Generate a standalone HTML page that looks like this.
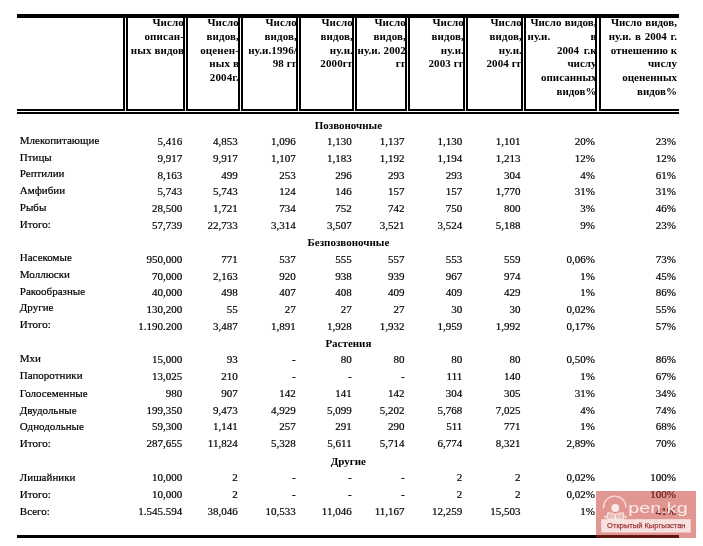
<!DOCTYPE html>
<html lang="ru"><head><meta charset="utf-8"><title>Таблица</title>
<style>
html,body{margin:0;padding:0;background:#fff;}
body{width:703px;height:546px;position:relative;overflow:hidden;font-family:"Liberation Serif","Times New Roman",serif;font-size:11px;color:#000;}
.t{position:absolute;white-space:nowrap;line-height:12px;height:12px;-webkit-text-stroke:0.2px #000;}
.l{left:19.8px;}
.n{text-align:right;width:80px;}
.h{font-weight:bold;text-align:right;width:100px;-webkit-text-stroke:0;letter-spacing:0.12px;}
.s{-webkit-text-stroke:0;font-weight:bold;text-align:center;width:120px;left:288.4px;}
.k{position:absolute;background:#000;}
</style></head><body>

<div class="t h" style="left:84.0px;top:16.0px">Число</div>
<div class="t h" style="left:84.0px;top:30.0px">описан-</div>
<div class="t h" style="left:84.0px;top:44.0px">ных видов</div>
<div class="t h" style="left:139.0px;top:16.0px">Число</div>
<div class="t h" style="left:139.0px;top:30.0px">видов,</div>
<div class="t h" style="left:139.0px;top:44.0px">оценен-</div>
<div class="t h" style="left:139.0px;top:57.4px">ных в</div>
<div class="t h" style="left:139.0px;top:71.0px">2004г.</div>
<div class="t h" style="left:197.0px;top:16.0px">Число</div>
<div class="t h" style="left:197.0px;top:30.0px">видов,</div>
<div class="t h" style="left:197.0px;top:44.0px">ну.и.1996/</div>
<div class="t h" style="left:197.0px;top:57.4px">98 гг</div>
<div class="t h" style="left:253.0px;top:16.0px">Число</div>
<div class="t h" style="left:253.0px;top:30.0px">видов,</div>
<div class="t h" style="left:253.0px;top:44.0px">ну.и.</div>
<div class="t h" style="left:253.0px;top:57.4px">2000гг</div>
<div class="t h" style="left:306.0px;top:16.0px">Число</div>
<div class="t h" style="left:306.0px;top:30.0px">видов,</div>
<div class="t h" style="left:306.0px;top:44.0px">ну.и. 2002</div>
<div class="t h" style="left:306.0px;top:57.4px">гг</div>
<div class="t h" style="left:364.0px;top:16.0px">Число</div>
<div class="t h" style="left:364.0px;top:30.0px">видов,</div>
<div class="t h" style="left:364.0px;top:44.0px">ну.и.</div>
<div class="t h" style="left:364.0px;top:57.4px">2003 гг</div>
<div class="t h" style="left:422.0px;top:16.0px">Число</div>
<div class="t h" style="left:422.0px;top:30.0px">видов,</div>
<div class="t h" style="left:422.0px;top:44.0px">ну.и.</div>
<div class="t h" style="left:422.0px;top:57.4px">2004 гг</div>
<div class="t h" style="left:496.5px;top:16.0px;letter-spacing:0;word-spacing:0.6px">Число видов,</div>
<div class="t h" style="left:496.5px;top:30.0px;letter-spacing:0">в</div>
<div class="t h" style="left:496.5px;top:44.0px;letter-spacing:0;word-spacing:1.8px">2004 г.к</div>
<div class="t h" style="left:496.5px;top:57.4px;letter-spacing:0">числу</div>
<div class="t h" style="left:496.5px;top:71.0px;letter-spacing:0">описанных</div>
<div class="t h" style="left:496.5px;top:85.0px;letter-spacing:0">видов%</div>
<div class="t h" style="left:577.0px;top:16.0px;letter-spacing:0;word-spacing:0.6px">Число видов,</div>
<div class="t h" style="left:577.0px;top:30.0px;letter-spacing:0;word-spacing:1.0px">ну.и. в 2004 г.</div>
<div class="t h" style="left:577.0px;top:44.0px;letter-spacing:0">отнешению к</div>
<div class="t h" style="left:577.0px;top:57.4px;letter-spacing:0">числу</div>
<div class="t h" style="left:577.0px;top:71.0px;letter-spacing:0">оцененных</div>
<div class="t h" style="left:577.0px;top:85.0px;letter-spacing:0">видов%</div>
<div class="t h" style="left:527.6px;top:30px;text-align:left;letter-spacing:0">ну.и.</div>
<div class="t s" style="top:119.0px">Позвоночные</div>
<div class="t l" style="top:134.0px">Млекопитающие</div>
<div class="t n" style="left:102.3px;top:135.0px">5,416</div>
<div class="t n" style="left:157.7px;top:135.0px">4,853</div>
<div class="t n" style="left:215.7px;top:135.0px">1,096</div>
<div class="t n" style="left:271.7px;top:135.0px">1,130</div>
<div class="t n" style="left:324.6px;top:135.0px">1,137</div>
<div class="t n" style="left:382.3px;top:135.0px">1,130</div>
<div class="t n" style="left:440.6px;top:135.0px">1,101</div>
<div class="t n" style="left:515.0px;top:135.0px">20%</div>
<div class="t n" style="left:595.8px;top:135.0px">23%</div>
<div class="t l" style="top:151.0px">Птицы</div>
<div class="t n" style="left:102.3px;top:152.0px">9,917</div>
<div class="t n" style="left:157.7px;top:152.0px">9,917</div>
<div class="t n" style="left:215.7px;top:152.0px">1,107</div>
<div class="t n" style="left:271.7px;top:152.0px">1,183</div>
<div class="t n" style="left:324.6px;top:152.0px">1,192</div>
<div class="t n" style="left:382.3px;top:152.0px">1,194</div>
<div class="t n" style="left:440.6px;top:152.0px">1,213</div>
<div class="t n" style="left:515.0px;top:152.0px">12%</div>
<div class="t n" style="left:595.8px;top:152.0px">12%</div>
<div class="t l" style="top:167.0px">Рептилии</div>
<div class="t n" style="left:102.3px;top:169.0px">8,163</div>
<div class="t n" style="left:157.7px;top:169.0px">499</div>
<div class="t n" style="left:215.7px;top:169.0px">253</div>
<div class="t n" style="left:271.7px;top:169.0px">296</div>
<div class="t n" style="left:324.6px;top:169.0px">293</div>
<div class="t n" style="left:382.3px;top:169.0px">293</div>
<div class="t n" style="left:440.6px;top:169.0px">304</div>
<div class="t n" style="left:515.0px;top:169.0px">4%</div>
<div class="t n" style="left:595.8px;top:169.0px">61%</div>
<div class="t l" style="top:184.0px">Амфибии</div>
<div class="t n" style="left:102.3px;top:185.0px">5,743</div>
<div class="t n" style="left:157.7px;top:185.0px">5,743</div>
<div class="t n" style="left:215.7px;top:185.0px">124</div>
<div class="t n" style="left:271.7px;top:185.0px">146</div>
<div class="t n" style="left:324.6px;top:185.0px">157</div>
<div class="t n" style="left:382.3px;top:185.0px">157</div>
<div class="t n" style="left:440.6px;top:185.0px">1,770</div>
<div class="t n" style="left:515.0px;top:185.0px">31%</div>
<div class="t n" style="left:595.8px;top:185.0px">31%</div>
<div class="t l" style="top:201.0px">Рыбы</div>
<div class="t n" style="left:102.3px;top:202.0px">28,500</div>
<div class="t n" style="left:157.7px;top:202.0px">1,721</div>
<div class="t n" style="left:215.7px;top:202.0px">734</div>
<div class="t n" style="left:271.7px;top:202.0px">752</div>
<div class="t n" style="left:324.6px;top:202.0px">742</div>
<div class="t n" style="left:382.3px;top:202.0px">750</div>
<div class="t n" style="left:440.6px;top:202.0px">800</div>
<div class="t n" style="left:515.0px;top:202.0px">3%</div>
<div class="t n" style="left:595.8px;top:202.0px">46%</div>
<div class="t l" style="top:218.0px">Итого:</div>
<div class="t n" style="left:102.3px;top:219.0px">57,739</div>
<div class="t n" style="left:157.7px;top:219.0px">22,733</div>
<div class="t n" style="left:215.7px;top:219.0px">3,314</div>
<div class="t n" style="left:271.7px;top:219.0px">3,507</div>
<div class="t n" style="left:324.6px;top:219.0px">3,521</div>
<div class="t n" style="left:382.3px;top:219.0px">3,524</div>
<div class="t n" style="left:440.6px;top:219.0px">5,188</div>
<div class="t n" style="left:515.0px;top:219.0px">9%</div>
<div class="t n" style="left:595.8px;top:219.0px">23%</div>
<div class="t s" style="top:236.0px">Безпозвоночные</div>
<div class="t l" style="top:251.0px">Насекомые</div>
<div class="t n" style="left:102.3px;top:253.0px">950,000</div>
<div class="t n" style="left:157.7px;top:253.0px">771</div>
<div class="t n" style="left:215.7px;top:253.0px">537</div>
<div class="t n" style="left:271.7px;top:253.0px">555</div>
<div class="t n" style="left:324.6px;top:253.0px">557</div>
<div class="t n" style="left:382.3px;top:253.0px">553</div>
<div class="t n" style="left:440.6px;top:253.0px">559</div>
<div class="t n" style="left:515.0px;top:253.0px">0,06%</div>
<div class="t n" style="left:595.8px;top:253.0px">73%</div>
<div class="t l" style="top:268.0px">Моллюски</div>
<div class="t n" style="left:102.3px;top:270.0px">70,000</div>
<div class="t n" style="left:157.7px;top:270.0px">2,163</div>
<div class="t n" style="left:215.7px;top:270.0px">920</div>
<div class="t n" style="left:271.7px;top:270.0px">938</div>
<div class="t n" style="left:324.6px;top:270.0px">939</div>
<div class="t n" style="left:382.3px;top:270.0px">967</div>
<div class="t n" style="left:440.6px;top:270.0px">974</div>
<div class="t n" style="left:515.0px;top:270.0px">1%</div>
<div class="t n" style="left:595.8px;top:270.0px">45%</div>
<div class="t l" style="top:285.0px">Ракообразные</div>
<div class="t n" style="left:102.3px;top:286.0px">40,000</div>
<div class="t n" style="left:157.7px;top:286.0px">498</div>
<div class="t n" style="left:215.7px;top:286.0px">407</div>
<div class="t n" style="left:271.7px;top:286.0px">408</div>
<div class="t n" style="left:324.6px;top:286.0px">409</div>
<div class="t n" style="left:382.3px;top:286.0px">409</div>
<div class="t n" style="left:440.6px;top:286.0px">429</div>
<div class="t n" style="left:515.0px;top:286.0px">1%</div>
<div class="t n" style="left:595.8px;top:286.0px">86%</div>
<div class="t l" style="top:301.0px">Другие</div>
<div class="t n" style="left:102.3px;top:303.0px">130,200</div>
<div class="t n" style="left:157.7px;top:303.0px">55</div>
<div class="t n" style="left:215.7px;top:303.0px">27</div>
<div class="t n" style="left:271.7px;top:303.0px">27</div>
<div class="t n" style="left:324.6px;top:303.0px">27</div>
<div class="t n" style="left:382.3px;top:303.0px">30</div>
<div class="t n" style="left:440.6px;top:303.0px">30</div>
<div class="t n" style="left:515.0px;top:303.0px">0,02%</div>
<div class="t n" style="left:595.8px;top:303.0px">55%</div>
<div class="t l" style="top:318.0px">Итого:</div>
<div class="t n" style="left:102.3px;top:320.0px">1.190.200</div>
<div class="t n" style="left:157.7px;top:320.0px">3,487</div>
<div class="t n" style="left:215.7px;top:320.0px">1,891</div>
<div class="t n" style="left:271.7px;top:320.0px">1,928</div>
<div class="t n" style="left:324.6px;top:320.0px">1,932</div>
<div class="t n" style="left:382.3px;top:320.0px">1,959</div>
<div class="t n" style="left:440.6px;top:320.0px">1,992</div>
<div class="t n" style="left:515.0px;top:320.0px">0,17%</div>
<div class="t n" style="left:595.8px;top:320.0px">57%</div>
<div class="t s" style="top:337.0px">Растения</div>
<div class="t l" style="top:352.0px">Мхи</div>
<div class="t n" style="left:102.3px;top:353.0px">15,000</div>
<div class="t n" style="left:157.7px;top:353.0px">93</div>
<div class="t n" style="left:215.7px;top:353.0px">-</div>
<div class="t n" style="left:271.7px;top:353.0px">80</div>
<div class="t n" style="left:324.6px;top:353.0px">80</div>
<div class="t n" style="left:382.3px;top:353.0px">80</div>
<div class="t n" style="left:440.6px;top:353.0px">80</div>
<div class="t n" style="left:515.0px;top:353.0px">0,50%</div>
<div class="t n" style="left:595.8px;top:353.0px">86%</div>
<div class="t l" style="top:369.0px">Папоротники</div>
<div class="t n" style="left:102.3px;top:370.0px">13,025</div>
<div class="t n" style="left:157.7px;top:370.0px">210</div>
<div class="t n" style="left:215.7px;top:370.0px">-</div>
<div class="t n" style="left:271.7px;top:370.0px">-</div>
<div class="t n" style="left:324.6px;top:370.0px">-</div>
<div class="t n" style="left:382.3px;top:370.0px">111</div>
<div class="t n" style="left:440.6px;top:370.0px">140</div>
<div class="t n" style="left:515.0px;top:370.0px">1%</div>
<div class="t n" style="left:595.8px;top:370.0px">67%</div>
<div class="t l" style="top:387.0px">Голосеменные</div>
<div class="t n" style="left:102.3px;top:387.0px">980</div>
<div class="t n" style="left:157.7px;top:387.0px">907</div>
<div class="t n" style="left:215.7px;top:387.0px">142</div>
<div class="t n" style="left:271.7px;top:387.0px">141</div>
<div class="t n" style="left:324.6px;top:387.0px">142</div>
<div class="t n" style="left:382.3px;top:387.0px">304</div>
<div class="t n" style="left:440.6px;top:387.0px">305</div>
<div class="t n" style="left:515.0px;top:387.0px">31%</div>
<div class="t n" style="left:595.8px;top:387.0px">34%</div>
<div class="t l" style="top:404.0px">Двудольные</div>
<div class="t n" style="left:102.3px;top:404.0px">199,350</div>
<div class="t n" style="left:157.7px;top:404.0px">9,473</div>
<div class="t n" style="left:215.7px;top:404.0px">4,929</div>
<div class="t n" style="left:271.7px;top:404.0px">5,099</div>
<div class="t n" style="left:324.6px;top:404.0px">5,202</div>
<div class="t n" style="left:382.3px;top:404.0px">5,768</div>
<div class="t n" style="left:440.6px;top:404.0px">7,025</div>
<div class="t n" style="left:515.0px;top:404.0px">4%</div>
<div class="t n" style="left:595.8px;top:404.0px">74%</div>
<div class="t l" style="top:420.0px">Однодольные</div>
<div class="t n" style="left:102.3px;top:420.0px">59,300</div>
<div class="t n" style="left:157.7px;top:420.0px">1,141</div>
<div class="t n" style="left:215.7px;top:420.0px">257</div>
<div class="t n" style="left:271.7px;top:420.0px">291</div>
<div class="t n" style="left:324.6px;top:420.0px">290</div>
<div class="t n" style="left:382.3px;top:420.0px">511</div>
<div class="t n" style="left:440.6px;top:420.0px">771</div>
<div class="t n" style="left:515.0px;top:420.0px">1%</div>
<div class="t n" style="left:595.8px;top:420.0px">68%</div>
<div class="t l" style="top:437.0px">Итого:</div>
<div class="t n" style="left:102.3px;top:437.0px">287,655</div>
<div class="t n" style="left:157.7px;top:437.0px">11,824</div>
<div class="t n" style="left:215.7px;top:437.0px">5,328</div>
<div class="t n" style="left:271.7px;top:437.0px">5,611</div>
<div class="t n" style="left:324.6px;top:437.0px">5,714</div>
<div class="t n" style="left:382.3px;top:437.0px">6,774</div>
<div class="t n" style="left:440.6px;top:437.0px">8,321</div>
<div class="t n" style="left:515.0px;top:437.0px">2,89%</div>
<div class="t n" style="left:595.8px;top:437.0px">70%</div>
<div class="t s" style="top:455.0px">Другие</div>
<div class="t l" style="top:471.0px">Лишайники</div>
<div class="t n" style="left:102.3px;top:471.0px">10,000</div>
<div class="t n" style="left:157.7px;top:471.0px">2</div>
<div class="t n" style="left:215.7px;top:471.0px">-</div>
<div class="t n" style="left:271.7px;top:471.0px">-</div>
<div class="t n" style="left:324.6px;top:471.0px">-</div>
<div class="t n" style="left:382.3px;top:471.0px">2</div>
<div class="t n" style="left:440.6px;top:471.0px">2</div>
<div class="t n" style="left:515.0px;top:471.0px">0,02%</div>
<div class="t n" style="left:595.8px;top:471.0px">100%</div>
<div class="t l" style="top:488.0px">Итого:</div>
<div class="t n" style="left:102.3px;top:488.0px">10,000</div>
<div class="t n" style="left:157.7px;top:488.0px">2</div>
<div class="t n" style="left:215.7px;top:488.0px">-</div>
<div class="t n" style="left:271.7px;top:488.0px">-</div>
<div class="t n" style="left:324.6px;top:488.0px">-</div>
<div class="t n" style="left:382.3px;top:488.0px">2</div>
<div class="t n" style="left:440.6px;top:488.0px">2</div>
<div class="t n" style="left:515.0px;top:488.0px">0,02%</div>
<div class="t n" style="left:595.8px;top:488.0px">100%</div>
<div class="t l" style="top:505.0px">Всего:</div>
<div class="t n" style="left:102.3px;top:505.0px">1.545.594</div>
<div class="t n" style="left:157.7px;top:505.0px">38,046</div>
<div class="t n" style="left:215.7px;top:505.0px">10,533</div>
<div class="t n" style="left:271.7px;top:505.0px">11,046</div>
<div class="t n" style="left:324.6px;top:505.0px">11,167</div>
<div class="t n" style="left:382.3px;top:505.0px">12,259</div>
<div class="t n" style="left:440.6px;top:505.0px">15,503</div>
<div class="t n" style="left:515.0px;top:505.0px">1%</div>
<div class="t n" style="left:595.8px;top:505.0px">41%</div>
<div class="k" style="left:17px;top:14px;width:662px;height:4px"></div>
<div class="k" style="left:17px;top:112px;width:662px;height:2px"></div>
<div class="k" style="left:17px;top:535px;width:662px;height:3px"></div>
<div class="k" style="left:17px;top:109px;width:108px;height:2px"></div>
<div class="k" style="left:126px;top:109px;width:59px;height:2px"></div>
<div class="k" style="left:186px;top:109px;width:54px;height:2px"></div>
<div class="k" style="left:241px;top:109px;width:57px;height:2px"></div>
<div class="k" style="left:299px;top:109px;width:55px;height:2px"></div>
<div class="k" style="left:355px;top:109px;width:52px;height:2px"></div>
<div class="k" style="left:408px;top:109px;width:57px;height:2px"></div>
<div class="k" style="left:466px;top:109px;width:57px;height:2px"></div>
<div class="k" style="left:524px;top:109px;width:73px;height:2px"></div>
<div class="k" style="left:599px;top:109px;width:80px;height:2px"></div>
<div class="k" style="left:123px;top:18px;width:2px;height:93px"></div>
<div class="k" style="left:126px;top:18px;width:2px;height:93px"></div>
<div class="k" style="left:183px;top:18px;width:2px;height:93px"></div>
<div class="k" style="left:186px;top:18px;width:2px;height:93px"></div>
<div class="k" style="left:238px;top:18px;width:2px;height:93px"></div>
<div class="k" style="left:241px;top:18px;width:2px;height:93px"></div>
<div class="k" style="left:296px;top:18px;width:2px;height:93px"></div>
<div class="k" style="left:299px;top:18px;width:2px;height:93px"></div>
<div class="k" style="left:352px;top:18px;width:2px;height:93px"></div>
<div class="k" style="left:355px;top:18px;width:2px;height:93px"></div>
<div class="k" style="left:405px;top:18px;width:2px;height:93px"></div>
<div class="k" style="left:408px;top:18px;width:2px;height:93px"></div>
<div class="k" style="left:463px;top:18px;width:2px;height:93px"></div>
<div class="k" style="left:466px;top:18px;width:2px;height:93px"></div>
<div class="k" style="left:521px;top:18px;width:2px;height:93px"></div>
<div class="k" style="left:524px;top:18px;width:2px;height:93px"></div>
<div class="k" style="left:595px;top:18px;width:2px;height:93px"></div>
<div class="k" style="left:599px;top:18px;width:2px;height:93px"></div>
<div style="position:absolute;left:596px;top:491px;width:100px;height:47px;background:rgba(195,45,38,0.5);overflow:hidden">
<svg width="100" height="47" viewBox="596 491 100 47" style="position:absolute;left:0;top:0">
<path d="M603.5 507.6 A11.2 11.2 0 0 1 625.9 506.9" fill="none" stroke="#fff" stroke-opacity="0.68" stroke-width="1.3" stroke-linecap="round"/>
<path d="M603.4 505.5 L604.4 505.8 L603.9 509 L603.1 509 Z" fill="#fff" fill-opacity="0.5"/>
<circle cx="615.3" cy="508" r="3.9" fill="#fff" fill-opacity="0.8"/>
<path d="M603.7 516.9 L606.6 514.8 L606.6 518.8 Z M627.2 516.9 L624.6 514.8 L624.6 518.8 Z" fill="#fff" fill-opacity="0.75"/>
<g stroke="#fff" stroke-opacity="0.85" stroke-width="0.9" fill="#fff" fill-opacity="0.28" stroke-linejoin="round">
<path d="M607.6 512.8 Q611.6 512.4 615.4 514.6 L615.4 519 L607.6 519 Z"/>
<path d="M623.4 512.8 Q619.3 512.4 615.4 514.6 L615.4 519 L623.4 519 Z"/>
</g>
<g stroke="#fff" stroke-opacity="0.55" stroke-width="0.6" fill="none">
<path d="M609.2 514.6 Q611.5 514.5 614 515.9"/><path d="M609.2 516.6 Q611.5 516.5 614 517.9"/>
<path d="M621.8 514.6 Q619.5 514.5 617 515.9"/><path d="M621.8 516.6 Q619.5 516.5 617 517.9"/>
</g>
<text x="628.3" y="512.5" font-family="Liberation Sans, Arial, sans-serif" font-size="14" fill="#fff" fill-opacity="0.8" textLength="59.4" lengthAdjust="spacingAndGlyphs">pen.kg</text>
<rect x="601.2" y="519.2" width="89.5" height="13.3" fill="#fff" fill-opacity="0.72"/>
<text x="607.1" y="528.3" font-family="Liberation Sans, Arial, sans-serif" font-size="7.5" fill="#a33a3a" stroke="#a33a3a" stroke-width="0.25" textLength="78.4" lengthAdjust="spacingAndGlyphs">Открытый Кыргызстан</text>
</svg>
</div>

</body></html>
